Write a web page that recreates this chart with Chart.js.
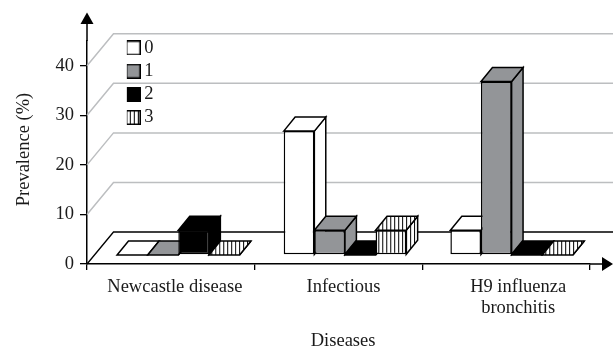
<!DOCTYPE html>
<html>
<head>
<meta charset="utf-8">
<style>
  html, body { margin: 0; padding: 0; background: #fff; }
  canvas { display: block; }
</style>
<script src="https://cdn.jsdelivr.net/npm/chart.js@4/dist/chart.umd.js"></script>
</head>
<body>
<canvas id="chart" width="613" height="349"></canvas>
<script>
// Data
const categories = ['Newcastle disease', 'Infectious', ['H9 influenza', 'bronchitis']]
const seriesNames = ['0', '1', '2', '3']
const series0 = [0, 25, 5]
const series1 = [0, 5, 35]
const series2 = [5, 0, 0]
const series3 = [0, 5, 0]
const yTicks = [0, 10, 20, 30, 40]

const FONT = 'Liberation Serif'
const FONT_SIZE = 18.5
const GREY = '#939598'

// Vertical stripes for series 3
function stripes() {
  const c = document.createElement('canvas')
  c.width = 4
  c.height = 4
  const g = c.getContext('2d')
  g.fillStyle = '#fff'
  g.fillRect(0, 0, 4, 4)
  g.fillStyle = '#000'
  g.fillRect(0, 0, 1, 4)
  return g.createPattern(c, 'repeat')
}
const hatch = stripes()
const fills = ['#fff', GREY, '#000', hatch]

// Legend key as a small canvas, the built-in box leaves too wide a gap to the text
function legendKey(fill) {
  const c = document.createElement('canvas')
  c.width = 15
  c.height = 15
  const g = c.getContext('2d')
  g.fillStyle = fill
  g.fillRect(0.75, 0.75, 13.5, 13.5)
  g.strokeStyle = '#000'
  g.lineWidth = 1.5
  g.strokeRect(0.75, 0.75, 13.5, 13.5)
  return c
}

const dataset = (i, data) => ({
  label: seriesNames[i],
  data,
  backgroundColor: fills[i],
  borderColor: '#000',
  borderWidth: 1.5,
  borderSkipped: false,
  categoryPercentage: 0.735,
  barPercentage: 1,
})

// Fake 3D: floor, back wall lines, bar tops and sides
const WALL = { dx: 26.5, dy: -32 }
const BAR = { dx: 11.5, dy: -14 }
const SHIFT = { dx: 8.5, dy: -9, kx: 0.994 }
const RIGHT = 613
const LABEL_NUDGE = [4, 5, 12]

function poly(ctx, pts, fill) {
  ctx.beginPath()
  pts.forEach((p, i) => (i ? ctx.lineTo(p[0], p[1]) : ctx.moveTo(p[0], p[1])))
  ctx.closePath()
  ctx.fillStyle = fill
  ctx.fill()
  ctx.stroke()
}

function nudgeTitle(scale, dx, dy) {
  const drawTitle = scale.drawTitle.bind(scale)
  scale.drawTitle = () => {
    scale.ctx.save()
    scale.ctx.translate(dx, dy)
    drawTitle()
    scale.ctx.restore()
  }
}

const depthPlugin = {
  id: 'depth',
  afterLayout(chart) {
    chart.legend.left = 126.85
    chart.legend.right = 200
    chart.legend.top = 34
    nudgeTitle(chart.scales.x, 4.6, 3)
    nudgeTitle(chart.scales.y, 0, -3)
  },
  beforeDraw(chart) {
    const x = chart.scales.x
    x.getLabelItems(chart.chartArea).forEach((item, i) => {
      item.options.translation[0] = x.getPixelForTick(i) + LABEL_NUDGE[i]
    })
  },
  beforeDatasetsDraw(chart) {
    const { ctx, scales } = chart
    const x0 = scales.x.left

    ctx.save()
    scales.y.ticks.forEach((t) => {
      const y = scales.y.getPixelForValue(t.value)
      ctx.beginPath()
      ctx.moveTo(x0, y)
      ctx.lineTo(x0 + WALL.dx, y + WALL.dy)
      ctx.lineTo(RIGHT, y + WALL.dy)
      ctx.strokeStyle = t.value === 0 ? '#000' : '#bcbec0'
      ctx.lineWidth = t.value === 0 ? 1.3 : 1.5
      ctx.stroke()
    })

    // left to right so that each bar hides the depth of the one before
    ctx.translate(SHIFT.dx, SHIFT.dy)
    ctx.scale(SHIFT.kx, 1)
    chart.data.datasets.forEach((ds, i) => {
      chart.getDatasetMeta(i).data.forEach((el) => {
        const l = el.x - el.width / 2
        const r = el.x + el.width / 2
        const t = el.y
        const b = el.base
        const fill = ds.backgroundColor
        ctx.strokeStyle = '#000'
        ctx.lineWidth = 1.5
        poly(ctx, [[r, t], [r + BAR.dx, t + BAR.dy], [r + BAR.dx, b + BAR.dy], [r, b]], fill)
        poly(ctx, [[l, t], [l + BAR.dx, t + BAR.dy], [r + BAR.dx, t + BAR.dy], [r, t]], fill)
        if (b - t > 0.5) el.draw(ctx)
      })
    })
    ctx.restore()
    return false
  },
  afterDraw(chart) {
    const { ctx, scales } = chart
    const ax = scales.x.left
    const ay = scales.y.bottom
    ctx.save()
    ctx.strokeStyle = '#000'
    ctx.fillStyle = '#000'
    ctx.lineWidth = 1.5
    ctx.beginPath()
    ctx.moveTo(ax, scales.y.top)
    ctx.lineTo(ax, 20)
    ctx.moveTo(scales.x.right, ay)
    ctx.lineTo(606, ay)
    ctx.stroke()
    ctx.beginPath()
    ctx.moveTo(ax, 12.5)
    ctx.lineTo(ax + 6.5, 24)
    ctx.lineTo(ax - 6.5, 24)
    ctx.closePath()
    ctx.fill()
    ctx.beginPath()
    ctx.moveTo(613, ay)
    ctx.lineTo(602, ay - 7)
    ctx.lineTo(602, ay + 7)
    ctx.closePath()
    ctx.fill()
    ctx.restore()
  },
}

Chart.defaults.font.family = FONT
Chart.defaults.font.size = FONT_SIZE
Chart.defaults.color = '#1a1a1a'

new Chart(document.getElementById('chart'), {
  type: 'bar',
  plugins: [depthPlugin],
  data: {
    labels: categories,
    datasets: [
      dataset(0, series0),
      dataset(1, series1),
      dataset(2, series2),
      dataset(3, series3),
    ],
  },
  options: {
    responsive: false,
    animation: false,
    layout: { padding: { top: 41, right: 23, left: 0, bottom: 0 } },
    plugins: {
      tooltip: { enabled: false },
      legend: {
        position: 'chartArea',
        align: 'start',
        labels: {
          usePointStyle: true,
          pointStyleWidth: 3.5,
          padding: 4.7,
          generateLabels: () =>
            seriesNames.map((text, i) => ({
              text,
              datasetIndex: i,
              hidden: false,
              pointStyle: legendKey(fills[i]),
              fontColor: '#1a1a1a',
            })),
        },
      },
    },
    scales: {
      x: {
        afterFit(s) { s.height = 85 },
        border: { color: '#000', width: 1.5 },
        grid: { drawOnChartArea: false, drawTicks: true, tickLength: 6, color: '#000', lineWidth: 1.3 },
        ticks: { maxRotation: 0, autoSkip: false, padding: 7, font: { lineHeight: 1.135 } },
        title: { display: true, text: 'Diseases', padding: 0 },
      },
      y: {
        min: yTicks[0],
        max: 45,
        afterFit(s) { s.width = 87 },
        afterBuildTicks(s) { s.ticks = yTicks.map((value) => ({ value })) },
        border: { color: '#000', width: 1.5 },
        grid: { drawOnChartArea: false, drawTicks: true, tickLength: 7, color: '#000', lineWidth: 1.3 },
        ticks: { padding: 6 },
        title: { display: true, text: 'Prevalence (%)', padding: 12.7 },
      },
    },
  },
})
</script>
</body>
</html>
